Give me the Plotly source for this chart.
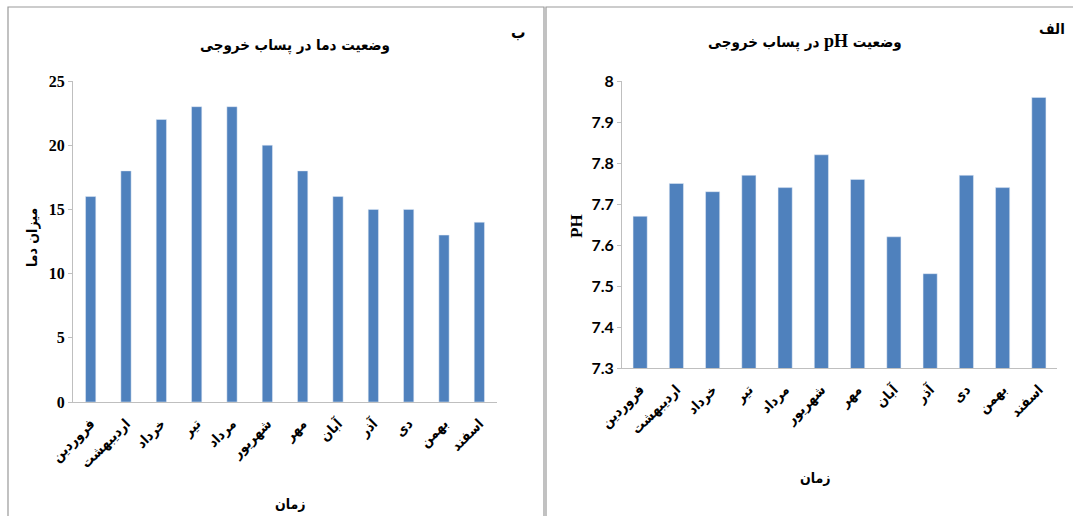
import plotly.graph_objects as go

# Persian months of the year
months = ["فروردین", "اردیبهشت", "خرداد", "تیر", "مرداد", "شهریور",
          "مهر", "آبان", "آذر", "دی", "بهمن", "اسفند"]

# Effluent temperature per month
temperature = [16, 18, 22, 23, 23, 20, 18, 16, 15, 15, 13, 14]

# Effluent pH per month
ph_values = [7.67, 7.75, 7.73, 7.77, 7.74, 7.82, 7.76, 7.62, 7.53, 7.77, 7.74, 7.96]

W, H = 1073, 516
BAR = "#4f81bd"
AXIS = "#bfbfbf"
FA_C = "DejaVu Sans Condensed, DejaVu Sans"
RLE, PDF = "\u202B", "\u202C"


def px(x):
    return x / W


def py(y):
    return 1 - y / H


fig = go.Figure()

fig.add_trace(go.Bar(x=months, y=temperature, marker_color=BAR, width=0.29,
                     xaxis="x", yaxis="y", showlegend=False))
fig.add_trace(go.Bar(x=months, y=ph_values, marker_color=BAR, width=0.39,
                     xaxis="x2", yaxis="y2", showlegend=False))

xaxis_common = dict(
    type="category", showgrid=False, showline=True, linecolor=AXIS,
    linewidth=1, ticks="", tickangle=-45, automargin=False,
    ticklabelstandoff=7,
    tickfont=dict(family=FA_C, size=14, color="#000", weight="bold"),
    fixedrange=True,
)
yaxis_common = dict(
    showgrid=False, showline=True, linecolor=AXIS, linewidth=1,
    ticks="outside", ticklen=4, tickcolor=AXIS, zeroline=False,
    automargin=False, fixedrange=True,
)

fig.update_layout(
    width=W, height=H, autosize=False,
    margin=dict(l=0, r=0, t=0, b=0, pad=0, autoexpand=False),
    paper_bgcolor="white", plot_bgcolor="white",
    xaxis=dict(domain=[px(73), px(497)], anchor="y", **xaxis_common),
    yaxis=dict(domain=[py(402), py(81)], anchor="x", range=[0, 25],
               dtick=5, tickfont=dict(family="Liberation Serif", size=16,
                                      color="#000", weight="bold"),
               **yaxis_common),
    xaxis2=dict(domain=[px(622), px(1057)], anchor="y2", **xaxis_common),
    yaxis2=dict(domain=[py(368), py(81)], anchor="x2", range=[7.3, 8.0],
                dtick=0.1,
                tickfont=dict(family="Lato", size=16, color="#000",
                              weight="bold"),
                **yaxis_common),
)

# Panel frames
fig.add_shape(type="rect", xref="paper", yref="paper",
              x0=px(8), x1=px(544), y0=py(520), y1=py(7),
              line=dict(color="#999999", width=1.2))
fig.add_shape(type="rect", xref="paper", yref="paper",
              x0=px(546), x1=px(1080), y0=py(520), y1=py(7),
              line=dict(color="#999999", width=1.2))

ann = [
    # temperature panel
    dict(x=px(295), y=py(45), text="وضعیت دما در پساب خروجی", size=15),
    dict(x=px(518), y=py(32), text="ب", size=16),
    dict(x=px(290), y=py(504), text="زمان", size=14),
    dict(x=px(33), y=py(238), text="میزان دما", size=14, angle=-90),
    # pH panel
    dict(x=px(805), y=py(41),
         text="وضعیت <span style='font-family:Liberation Serif;font-size:18px'>pH</span> در پساب خروجی",
         size=15),
    dict(x=px(1052), y=py(29), text="الف", size=15),
    dict(x=px(815), y=py(478), text="زمان", size=14),
]
for a in ann:
    fig.add_annotation(
        x=a["x"], y=a["y"], xref="paper", yref="paper",
        text=RLE + a["text"] + PDF,
        showarrow=False, textangle=a.get("angle", 0),
        font=dict(family=FA_C, size=a["size"], color="#000", weight="bold"),
        xanchor="center", yanchor="middle",
    )
fig.add_annotation(
    x=px(576), y=py(226), xref="paper", yref="paper", text="PH",
    showarrow=False, textangle=-90,
    font=dict(family="Liberation Serif", size=17, color="#000", weight="bold"),
    xanchor="center", yanchor="middle",
)

fig.write_html("out.html")
